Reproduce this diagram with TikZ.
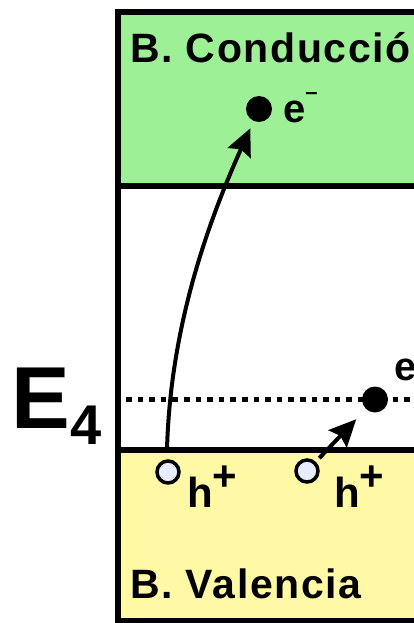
\documentclass[tikz,border=0pt]{standalone}
\usepackage{fontspec}
\setmainfont{Liberation Sans}
\usetikzlibrary{arrows.meta}
\definecolor{cbgreen}{RGB}{158,240,150}
\definecolor{vbyellow}{RGB}{255,248,165}
\definecolor{holefill}{RGB}{232,236,255}
\begin{document}
\begin{tikzpicture}[x=1pt,y=-1pt,
  bandline/.style={line width=6pt},
  bandlbl/.style={anchor=base west, inner sep=0pt,
    font=\bfseries\fontsize{41}{41}\selectfont\addfontfeature{LetterSpace=4}},
  carrierlbl/.style={anchor=base west, inner sep=0pt,
    font=\bfseries\fontsize{40}{40}\selectfont},
  electron/.style={circle, fill=black, minimum size=26pt, inner sep=0pt},
  hole/.style={circle, draw=black, line width=3.5pt, fill=holefill,
    minimum size=22pt, inner sep=0pt},
  jump/.style={line width=4pt,
    -{Stealth[length=27pt,width=25pt,inset=4pt]}}
]
\useasboundingbox (0,0) rectangle (413,623);
\fill[white] (0,0) rectangle (413,623);
% bands
\fill[cbgreen] (118,12.5) rectangle (430,186);
\fill[vbyellow] (118,449.5) rectangle (430,621);
% impurity level (dotted)
\draw[line width=5.5pt, dash pattern=on 5.5pt off 6.1pt] (126,399.5) -- (430,399.5);
% frame and band edges
\draw[bandline] (430,12.5) -- (118,12.5) -- (118,620.5) -- (430,620.5);
\draw[bandline] (118,186) -- (430,186);
\draw[bandline] (118,449.5) -- (430,449.5);
% labels of bands
\node[bandlbl] (cb) at (130,63) {B. Conducció};
\node[bandlbl] (vb) at (130,598) {B. Valencia};
% energy label
\node[anchor=base west, inner sep=0pt, font=\bfseries\fontsize{88}{88}\selectfont]
  (E4) at (11.5,428) {E\raisebox{-16pt}{\fontsize{56}{56}\selectfont 4}};
% carriers
\node[electron] (e1) at (259,109) {};
\node[electron] (e2) at (375,399.5) {};
\node[hole] (h1) at (168,472) {};
\node[hole] (h2) at (307,471) {};
\coordinate (h1top) at (167,449.5);
% transitions
\draw[jump, shorten >=8pt] (h1top) .. controls (170,340) and (200,240) .. (e1);
\draw[jump, shorten >=14pt, shorten <=5pt] (h2) -- (e2);
% carrier labels
\node[carrierlbl] (le1) at (283,122) {e\raisebox{22pt}{\fontsize{22}{22}\selectfont –}};
\node[carrierlbl] (le2) at (394,380) {e\raisebox{22pt}{\fontsize{22}{22}\selectfont –}};
\node[carrierlbl, font=\bfseries\fontsize{42}{42}\selectfont] (lh1) at (187,507) {h\raisebox{17pt}{+}};
\node[carrierlbl, font=\bfseries\fontsize{42}{42}\selectfont] (lh2) at (334,507) {h\raisebox{17pt}{+}};
\end{tikzpicture}
\end{document}
